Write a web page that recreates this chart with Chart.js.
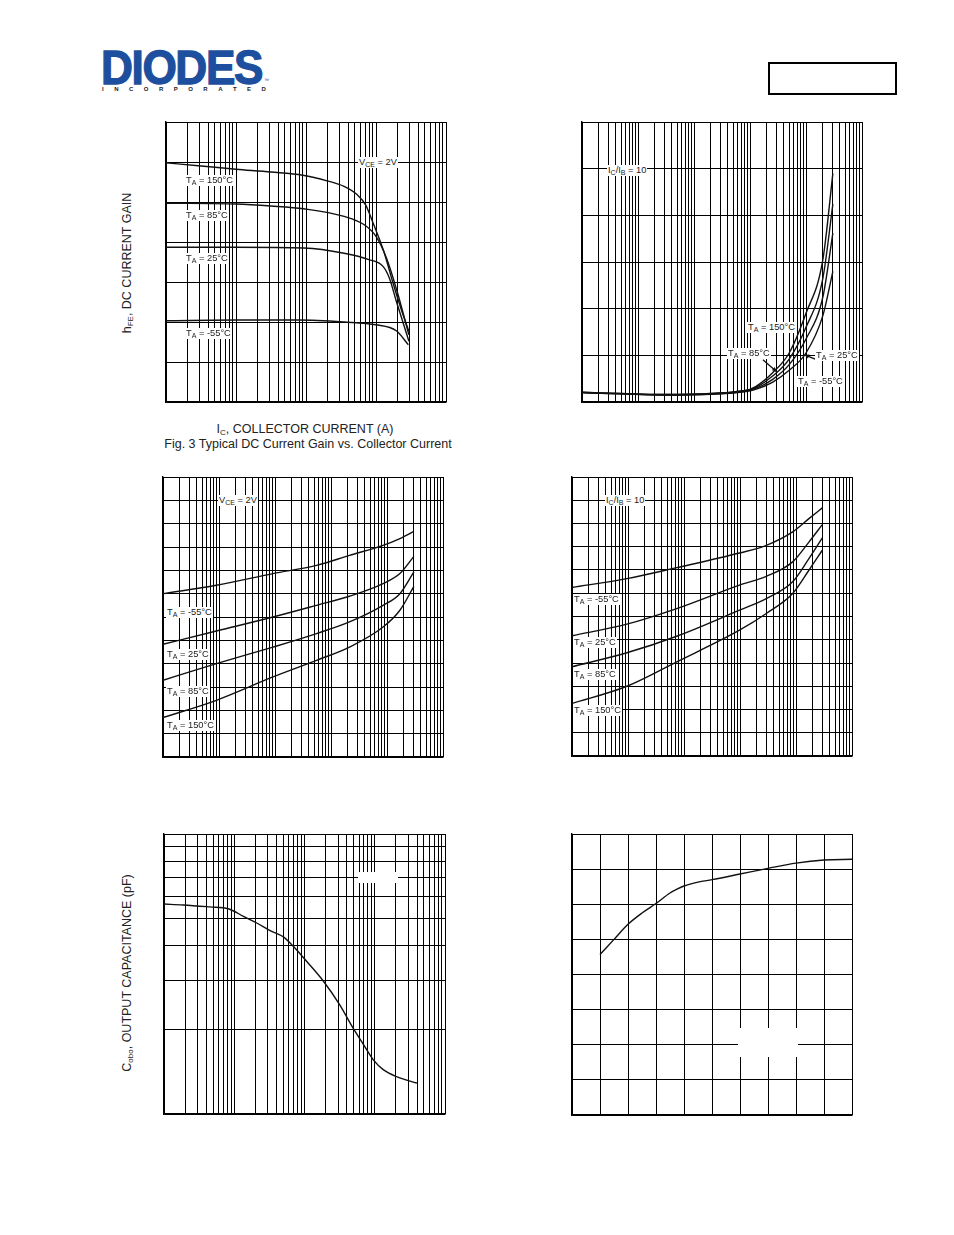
<!DOCTYPE html>
<html><head><meta charset="utf-8">
<script src="https://cdn.jsdelivr.net/npm/chart.js@4.4.0/dist/chart.umd.min.js"></script>
<style>
body{margin:0;background:#fff;}
#page{position:relative;width:954px;height:1235px;overflow:hidden;font-family:"Liberation Sans",Arial,sans-serif;color:#111;background:#fff;}
.cw{position:absolute;}
.cw canvas{display:block;}
.lbl{position:absolute;background:#fff;font-size:9.3px;line-height:11px;height:11px;white-space:nowrap;padding:0 1px;color:#222;z-index:2;}
.lbl sub{font-size:7px;vertical-align:-2px;line-height:0;}
.blank{position:absolute;background:#fff;z-index:2;}
.ytitle{position:absolute;font-size:12.5px;white-space:nowrap;transform:translate(-50%,-50%) rotate(-90deg);color:#222;}
.ytitle sub,.xt sub{font-size:8px;vertical-align:-2px;line-height:0;}
.xt{position:absolute;font-size:12.5px;white-space:nowrap;transform:translateX(-50%);color:#222;}
#logo{position:absolute;left:101px;top:44px;font-weight:bold;font-size:48px;line-height:48px;color:#1d4f9e;transform-origin:0 0;transform:scaleX(0.92);letter-spacing:-1.5px;-webkit-text-stroke:1.3px #1d4f9e;}
#inc{position:absolute;left:102px;top:86px;width:164px;display:flex;justify-content:space-between;font-size:6px;font-weight:bold;color:#222;}
#tm{position:absolute;left:264px;top:77px;font-size:5px;color:#1d4f9e;}
#box{position:absolute;left:768px;top:62px;width:125px;height:29px;border:2px solid #000;}
</style>
</head><body>
<div id="page">
  <div id="logo">DIODES</div>
  <div id="tm">™</div>
  <div id="inc"><span>I</span><span>N</span><span>C</span><span>O</span><span>R</span><span>P</span><span>O</span><span>R</span><span>A</span><span>T</span><span>E</span><span>D</span></div>
  <div id="box"></div>

  <div class="cw" id="w1"><canvas id="c1"></canvas></div>
  <div class="cw" id="w2"><canvas id="c2"></canvas></div>
  <div class="cw" id="w3"><canvas id="c3"></canvas></div>
  <div class="cw" id="w4"><canvas id="c4"></canvas></div>
  <div class="cw" id="w5"><canvas id="c5"></canvas></div>
  <div class="cw" id="w6"><canvas id="c6"></canvas></div>

  <div class="ytitle" style="left:127px;top:263px;">h<sub>FE</sub>, DC CURRENT GAIN</div>
  <div class="xt" style="left:305px;top:422px;">I<sub>C</sub>, COLLECTOR CURRENT (A)</div>
  <div class="xt" style="left:308px;top:437px;">Fig. 3 Typical DC Current Gain vs. Collector Current</div>
  <div class="ytitle" style="left:127px;top:973px;">C<sub>obo</sub>, OUTPUT CAPACITANCE (pF)</div>

  <!-- chart 1 labels -->
  <div class="lbl" style="left:358px;top:157px;">V<sub>CE</sub> = 2V</div>
  <div class="lbl" style="left:185px;top:175px;">T<sub>A</sub> = 150°C</div>
  <div class="lbl" style="left:185px;top:210px;">T<sub>A</sub> = 85°C</div>
  <div class="lbl" style="left:185px;top:253px;">T<sub>A</sub> = 25°C</div>
  <div class="lbl" style="left:185px;top:328px;">T<sub>A</sub> = -55°C</div>
  <!-- chart 2 labels -->
  <div class="lbl" style="left:607px;top:165px;">I<sub>C</sub>/I<sub>B</sub> = 10</div>
  <div class="lbl" style="left:747px;top:322px;">T<sub>A</sub> = 150°C</div>
  <div class="lbl" style="left:727px;top:348px;">T<sub>A</sub> = 85°C</div>
  <div class="lbl" style="left:815px;top:350px;">T<sub>A</sub> = 25°C</div>
  <div class="lbl" style="left:797px;top:376px;">T<sub>A</sub> = -55°C</div>
  <!-- chart 3 labels -->
  <div class="lbl" style="left:218px;top:495px;">V<sub>CE</sub> = 2V</div>
  <div class="lbl" style="left:166px;top:607px;">T<sub>A</sub> = -55°C</div>
  <div class="lbl" style="left:166px;top:649px;">T<sub>A</sub> = 25°C</div>
  <div class="lbl" style="left:166px;top:686px;">T<sub>A</sub> = 85°C</div>
  <div class="lbl" style="left:166px;top:720px;">T<sub>A</sub> = 150°C</div>
  <!-- chart 4 labels -->
  <div class="lbl" style="left:605px;top:495px;">I<sub>C</sub>/I<sub>B</sub> = 10</div>
  <div class="lbl" style="left:573px;top:594px;">T<sub>A</sub> = -55°C</div>
  <div class="lbl" style="left:573px;top:637px;">T<sub>A</sub> = 25°C</div>
  <div class="lbl" style="left:573px;top:669px;">T<sub>A</sub> = 85°C</div>
  <div class="lbl" style="left:573px;top:705px;">T<sub>A</sub> = 150°C</div>
  <!-- blank label boxes -->
  <div class="blank" style="left:358px;top:872px;width:40px;height:11px;"></div>
  <div class="blank" style="left:738px;top:1028px;width:60px;height:29px;"></div>
</div>
<script>
// ---------- grid tick values ----------
const MINOR = [1,2,3,4,5,6,7,8,9];
const DECADES_C1 = [0.001,0.01,0.1,1];          // 0.001 .. 10 A
const DECADES_C2 = [0.0001,0.001,0.01,0.1,1];   // 0.0001 .. 10 A
const DECADES_C5 = [0.01,0.1,1,10];             // 0.01 .. 100 V
const Y1_TICKS = [0,50,100,150,200,250,300,350];
const Y2_TICKS = [0,0.1,0.2,0.3,0.4,0.5,0.6];
const Y34_TICKS = [0,0.1,0.2,0.3,0.4,0.5,0.6,0.7,0.8,0.9,1.0,1.1,1.2];
const Y5_DECADES = [10];                         // 10 .. 100 pF
const X6_TICKS = [0,5,10,15,20,25,30,35,40,45,50];
const Y6_TICKS = [0,50,100,150,200,250,300,350,400];

// ---------- Fig 3: hFE vs IC ----------
const c1_x150 = [0.001,0.00316,0.01,0.0316,0.09,0.2,0.35,0.54,0.71,0.93,1.29,1.78,2.34,2.95];
const c1_y150 = [299,295,291,287.5,283.5,276.5,269.5,259,246.5,221.5,188.5,146.5,113.5,88.5];
const c1_x85  = [0.001,0.01,0.0316,0.093,0.35,0.68,1.0,1.41,2.0,2.95];
const c1_y85  = [248.5,247.5,245,241.5,232,221.5,207,180,138.5,84];
const c1_x25  = [0.001,0.01,0.093,0.35,0.79,1.26,1.55,1.95,2.4,2.95];
const c1_y25  = [193.5,193.5,192.5,186,178,169.5,155,126,101,76];
const c1_xm55 = [0.001,0.01,0.079,0.35,1.0,1.95,2.9];
const c1_ym55 = [101.5,102.5,102.5,100,96.5,89,71.5];

// ---------- VCE(sat) vs IC ----------
const c2_x    = [0.0001,0.00316,0.0794,0.126,0.251,0.501,1.0,2.0,3.02];
const c2_y150 = [0.021,0.016,0.024,0.033,0.062,0.105,0.19,0.305,0.49];
const c2_y85  = [0.021,0.016,0.024,0.031,0.055,0.092,0.16,0.265,0.424];
const c2_y25  = [0.020,0.015,0.023,0.029,0.048,0.080,0.135,0.225,0.362];
const c2_ym55 = [0.020,0.015,0.022,0.027,0.042,0.068,0.105,0.185,0.28];

// ---------- VBE(on) vs IC ----------
const c3_x    = [0.0001,0.000897,0.0092,0.055,0.214,0.851,1.7,3.02];
const c3_ym55 = [0.700,0.736,0.786,0.821,0.864,0.907,0.936,0.967];
const c3_y25  = [0.483,0.540,0.600,0.650,0.689,0.743,0.786,0.860];
const c3_y85  = [0.329,0.400,0.471,0.529,0.579,0.650,0.700,0.793];
const c3_y150 = [0.169,0.243,0.343,0.414,0.471,0.557,0.629,0.731];

// ---------- VBE(sat) vs IC ----------
const c4_x    = [0.0001,0.000955,0.00741,0.0977,0.295,0.871,1.7,2.95];
const c4_ym55 = [0.725,0.763,0.810,0.873,0.906,0.964,1.021,1.067];
const c4_y25  = [0.517,0.567,0.634,0.735,0.773,0.835,0.920,0.995];
const c4_y85  = [0.384,0.444,0.515,0.627,0.677,0.749,0.849,0.938];
const c4_y150 = [0.226,0.300,0.405,0.541,0.613,0.699,0.799,0.885];

// ---------- Cobo vs VCB ----------
const c5_x = [0.01,0.0188,0.0452,0.0824,0.135,0.209,0.324,0.501,0.692,1.07,1.86,3.16,4.9,6.92,9.55,13.2,20.4,39.8];
const c5_y = [56.2,55.8,54.9,54.1,50.8,48.1,45.2,42.9,39.7,35.1,29.8,24.6,20.3,17.7,15.6,14.4,13.6,12.9];

// ---------- fT vs IC ----------
const c6_x = [5,7.5,10,12.5,15,17.5,18.75,20,22.5,25,30,35,40,45,50];
const c6_y = [228.5,250,271.5,287.5,301,316,321.5,326,331.5,335,343,351,358.5,363,364];

// arrows on VCE(sat) chart (data coordinates)
const c2_arrows = [
  {x1:0.17, y1:0.0906, x2:0.30, y2:0.065},
  {x1:1.54, y1:0.0906, x2:0.94, y2:0.101}
];

// ---------- helpers ----------
function logTicks(decades){ const t=[]; decades.forEach(d=>MINOR.forEach(m=>t.push(+(d*m).toPrecision(3)))); t.push(decades[decades.length-1]*10); return t; }
function axis(type,min,max,ticks){
  return {type,min,max,
    afterBuildTicks:s=>{s.ticks=ticks.map(v=>({value:v}));},
    ticks:{display:false},
    grid:{color:'#000',lineWidth:1,drawTicks:false},
    border:{display:true,color:'#000',width:1.4}};
}
function pts(xs,ys){ return xs.map((x,i)=>({x,y:ys[i]})); }
function ds(xs,ys){ return {data:pts(xs,ys),borderColor:'#111',borderWidth:1.4,pointRadius:0,fill:false,cubicInterpolationMode:'monotone'}; }
const PAD=3;
function place(id,L,T,W,H){ const w=document.getElementById(id); w.style.left=(L-PAD)+'px'; w.style.top=(T-PAD)+'px'; w.style.width=(W+2*PAD)+'px'; w.style.height=(H+2*PAD)+'px'; }
const arrowPlugin={id:'arrows',afterDatasetsDraw(chart,args,opts){
  const list=opts.list||[]; const ctx=chart.ctx, xs=chart.scales.x, ys=chart.scales.y;
  ctx.save(); ctx.strokeStyle='#111'; ctx.fillStyle='#111'; ctx.lineWidth=1.3;
  list.forEach(a=>{
    const x1=xs.getPixelForValue(a.x1), y1=ys.getPixelForValue(a.y1), x2=xs.getPixelForValue(a.x2), y2=ys.getPixelForValue(a.y2);
    ctx.beginPath(); ctx.moveTo(x1,y1); ctx.lineTo(x2,y2); ctx.stroke();
    const ang=Math.atan2(y2-y1,x2-x1), L=5;
    ctx.beginPath(); ctx.moveTo(x2,y2);
    ctx.lineTo(x2-L*Math.cos(ang-0.45),y2-L*Math.sin(ang-0.45));
    ctx.lineTo(x2-L*Math.cos(ang+0.45),y2-L*Math.sin(ang+0.45));
    ctx.closePath(); ctx.fill();
  });
  ctx.restore();
}};
function make(id,datasets,xAxis,yAxis,extra){
  return new Chart(document.getElementById(id),{
    type:'line',
    data:{datasets},
    options:{responsive:true,maintainAspectRatio:false,animation:false,events:[],
      layout:{padding:PAD},
      scales:{x:xAxis,y:yAxis},
      plugins:{legend:{display:false},tooltip:{enabled:false},arrows:{list:(extra||[])}}},
    plugins:[arrowPlugin]
  });
}

place('w1',166,122,280,280);
place('w2',582,122,280,280);
place('w3',163,477,280,280);
place('w4',572,477,280,279);
place('w5',164,834,281,280);
place('w6',572,834,280,281);

make('c1',[ds(c1_x150,c1_y150),ds(c1_x85,c1_y85),ds(c1_x25,c1_y25),ds(c1_xm55,c1_ym55)],
  axis('logarithmic',0.001,10,logTicks(DECADES_C1)), axis('linear',0,350,Y1_TICKS));
make('c2',[ds(c2_x,c2_y150),ds(c2_x,c2_y85),ds(c2_x,c2_y25),ds(c2_x,c2_ym55)],
  axis('logarithmic',0.0001,10,logTicks(DECADES_C2)), axis('linear',0,0.6,Y2_TICKS), c2_arrows);
make('c3',[ds(c3_x,c3_ym55),ds(c3_x,c3_y25),ds(c3_x,c3_y85),ds(c3_x,c3_y150)],
  axis('logarithmic',0.0001,10,logTicks(DECADES_C2)), axis('linear',0,1.2,Y34_TICKS));
make('c4',[ds(c4_x,c4_ym55),ds(c4_x,c4_y25),ds(c4_x,c4_y85),ds(c4_x,c4_y150)],
  axis('logarithmic',0.0001,10,logTicks(DECADES_C2)), axis('linear',0,1.2,Y34_TICKS));
make('c5',[ds(c5_x,c5_y)],
  axis('logarithmic',0.01,100,logTicks(DECADES_C5)), axis('logarithmic',10,100,logTicks(Y5_DECADES)));
make('c6',[ds(c6_x,c6_y)],
  axis('linear',0,50,X6_TICKS), axis('linear',0,400,Y6_TICKS));
</script>
</body></html>
